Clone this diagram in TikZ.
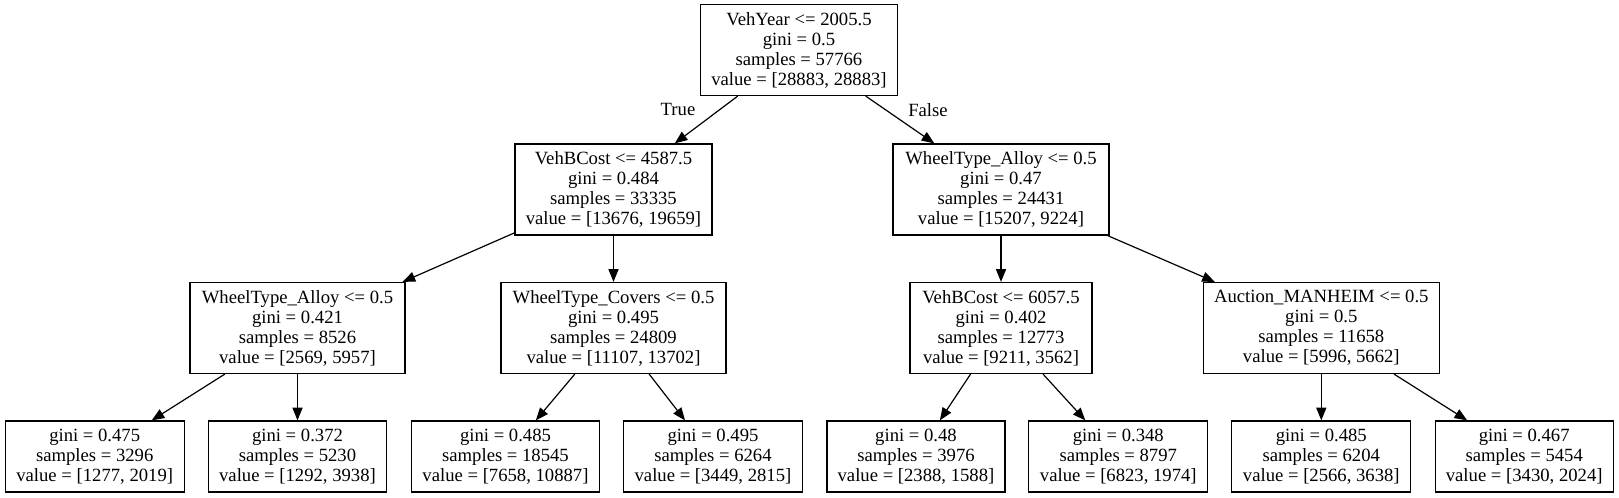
\documentclass[tikz,border=0pt]{standalone}
\usepackage{fontspec}
\setmainfont{Liberation Serif}
\usetikzlibrary{arrows.meta}
\tikzset{
  box/.style={draw, rectangle, line width=0.9pt, inner sep=0pt, align=center,
    font=\fontsize{14}{15}\selectfont},
  lvl/.style={box, minimum height=68.25pt},
  leaf/.style={box, minimum height=53.25pt},
  edge/.style={line width=0.9pt, -{Triangle[length=9.5pt,width=7.5pt]}},
  elabel/.style={font=\fontsize{14}{15}\selectfont, inner sep=0pt}
}
\begin{document}
\begin{tikzpicture}[x=0.75pt, y=-0.75pt]
\useasboundingbox (0,0) rectangle (1619,497);
% root
\node[lvl, minimum width=147.75pt] (root) at (799,50) {VehYear <= 2005.5\\gini = 0.5\\samples = 57766\\value = [28883, 28883]};
% level 1
\node[lvl, minimum width=147.75pt] (n1) at (613.5,189.5) {VehBCost <= 4587.5\\gini = 0.484\\samples = 33335\\value = [13676, 19659]};
\node[lvl, minimum width=162pt] (n2) at (1001,189.5) {WheelType\_Alloy <= 0.5\\gini = 0.47\\samples = 24431\\value = [15207, 9224]};
% level 2
\node[lvl, minimum width=161.25pt] (a) at (297.5,328) {WheelType\_Alloy <= 0.5\\gini = 0.421\\samples = 8526\\value = [2569, 5957]};
\node[lvl, minimum width=168.75pt] (b) at (613.5,328) {WheelType\_Covers <= 0.5\\gini = 0.495\\samples = 24809\\value = [11107, 13702]};
\node[lvl, minimum width=136.5pt] (c) at (1001,328) {VehBCost <= 6057.5\\gini = 0.402\\samples = 12773\\value = [9211, 3562]};
\node[lvl, minimum width=177pt] (d) at (1321.3,328) {Auction\_MANHEIM <= 0.5\\gini = 0.5\\samples = 11658\\value = [5996, 5662]};
% leaves
\node[leaf, minimum width=134.25pt] (l1) at (94.7,456.5) {gini = 0.475\\samples = 3296\\value = [1277, 2019]};
\node[leaf, minimum width=133.5pt] (l2) at (297.5,456.5) {gini = 0.372\\samples = 5230\\value = [1292, 3938]};
\node[leaf, minimum width=141pt] (l3) at (505.5,456.5) {gini = 0.485\\samples = 18545\\value = [7658, 10887]};
\node[leaf, minimum width=134.25pt] (l4) at (713,456.5) {gini = 0.495\\samples = 6264\\value = [3449, 2815]};
\node[leaf, minimum width=133.5pt] (l5) at (916,456.5) {gini = 0.48\\samples = 3976\\value = [2388, 1588]};
\node[leaf, minimum width=134.25pt] (l6) at (1118.3,456.5) {gini = 0.348\\samples = 8797\\value = [6823, 1974]};
\node[leaf, minimum width=134.25pt] (l7) at (1321.3,456.5) {gini = 0.485\\samples = 6204\\value = [2566, 3638]};
\node[leaf, minimum width=133.5pt] (l8) at (1524.2,456.5) {gini = 0.467\\samples = 5454\\value = [3430, 2024]};
% edge labels
\node[elabel] (ltrue) at (678,109) {True};
\node[elabel] (lfalse) at (928,110) {False};
% edges
\draw[edge] (root) -- (n1);
\draw[edge] (root) -- (n2);
\draw[edge] (n1) -- (a);
\draw[edge] (n1) -- (b);
\draw[edge] (n2) -- (c);
\draw[edge] (n2) -- (d);
\draw[edge] (a) -- (l1);
\draw[edge] (a) -- (l2);
\draw[edge] (b) -- (l3);
\draw[edge] (b) -- (l4);
\draw[edge] (c) -- (l5);
\draw[edge] (c) -- (l6);
\draw[edge] (d) -- (l7);
\draw[edge] (d) -- (l8);
\end{tikzpicture}
\end{document}
